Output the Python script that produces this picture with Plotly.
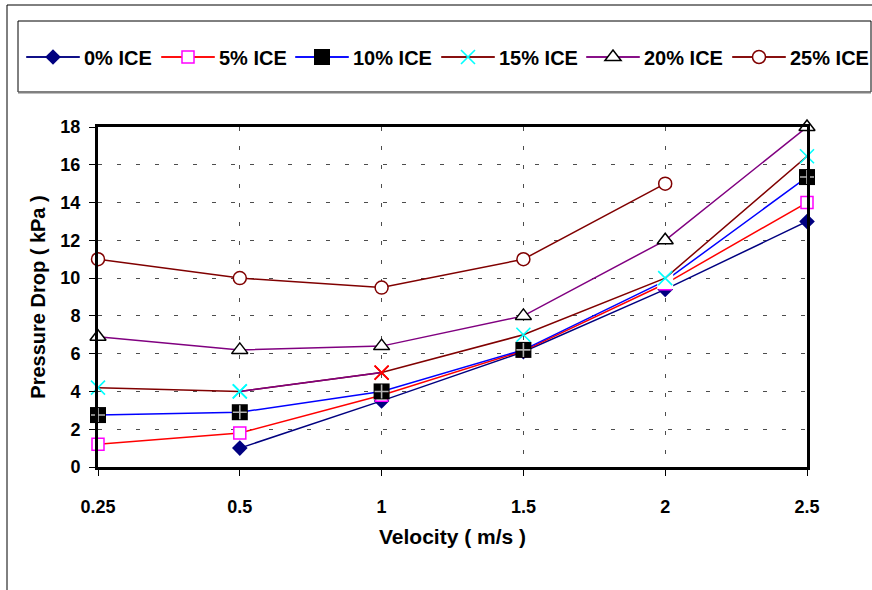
import plotly.graph_objects as go

# Velocity categories (m/s) and pressure drop (kPa) per ice fraction
velocity = ["0.25", "0.5", "1", "1.5", "2", "2.5"]

ice_0 = [None, 1.0, 3.5, 6.1, 9.4, 13.0]
ice_5 = [1.2, 1.8, 3.8, 6.15, 9.7, 14.0]
ice_10 = [2.75, 2.9, 4.0, 6.2, 9.85, 15.35]
ice_15 = [4.2, 4.0, 5.0, 7.0, 10.0, 16.45]
ice_20 = [6.9, 6.2, 6.4, 8.0, 12.0, 18.0]
ice_25 = [11.0, 10.0, 9.5, 11.0, 15.0, None]

# plot area in pixels
W, H = 872, 590
L, R, T, B = 98, 65, 127, 123
PW, PH = W - L - R, H - T - B


def px_x(px):
    return (px - L) / PW


def px_y(py):
    return (H - B - py) / PH


FONT = "Liberation Sans, Arial, sans-serif"
LINE_W = 1.5

# one legend box per series, laid out in a single row across the top
legend_ids = ["legend", "legend2", "legend3", "legend4", "legend5", "legend6"]
legend_left = [26, 161, 295, 441, 586, 732]   # left end of each legend key line (px)
legend_row_y = 57
key_len = 54
key_item_w = 52                               # legend itemwidth; symbol centred in it
line_colors = ["#000080", "#FF0000", "#0000FF", "#800000", "#800080", "#800000"]

fig = go.Figure()

fig.add_trace(go.Scatter(
    x=velocity, y=ice_0, name="0% ICE", mode="lines+markers", legend=legend_ids[0],
    line=dict(color=line_colors[0], width=LINE_W),
    marker=dict(symbol="diamond", size=12, color="#000080"),
    cliponaxis=False,
))

fig.add_trace(go.Scatter(
    x=velocity, y=ice_5, name="5% ICE", mode="lines+markers", legend=legend_ids[1],
    line=dict(color=line_colors[1], width=LINE_W),
    marker=dict(symbol="square", size=12, color="white",
                line=dict(color="#FF00FF", width=1.5)),
    cliponaxis=False,
))

# 10% series: black square with white plus; the point at 2 m/s is a plain white square
sq_fill_10 = ["black", "black", "black", "black", "white", "black"]
plus_size_10 = [10, 10, 10, 10, 0, 10]
fig.add_trace(go.Scatter(
    x=velocity, y=ice_10, name="10% ICE", mode="lines+markers", legend=legend_ids[2],
    line=dict(color=line_colors[2], width=LINE_W),
    marker=dict(symbol="square", size=16, color=sq_fill_10, line=dict(width=0)),
    cliponaxis=False,
))
fig.add_trace(go.Scatter(
    x=velocity, y=ice_10, mode="markers", showlegend=False, hoverinfo="skip",
    marker=dict(symbol="cross-thin", size=plus_size_10,
                line=dict(color="white", width=1.6)),
    cliponaxis=False,
))

# 15% series: cyan crosses, one red cross at 1 m/s
x_col_15 = ["#00FFFF", "#00FFFF", "#FF0000", "#00FFFF", "#00FFFF", "#00FFFF"]
fig.add_trace(go.Scatter(
    x=velocity, y=ice_15, name="15% ICE", mode="lines+markers", legend=legend_ids[3],
    line=dict(color=line_colors[3], width=LINE_W),
    marker=dict(symbol="x-thin", size=14, color=x_col_15,
                line=dict(color=x_col_15, width=1.6)),
    cliponaxis=False,
))
# the 0.5-1 m/s segment of the 15% series is drawn in purple
fig.add_trace(go.Scatter(
    x=velocity[1:3], y=ice_15[1:3], mode="lines", showlegend=False,
    hoverinfo="skip", line=dict(color="#800080", width=LINE_W),
    cliponaxis=False,
))
fig.add_trace(go.Scatter(
    x=velocity[1:3], y=ice_15[1:3], mode="markers", showlegend=False,
    hoverinfo="skip",
    marker=dict(symbol="x-thin", size=14, color=x_col_15[1:3],
                line=dict(color=x_col_15[1:3], width=1.6)),
    cliponaxis=False,
))

fig.add_trace(go.Scatter(
    x=velocity, y=ice_20, name="20% ICE", mode="lines+markers", legend=legend_ids[4],
    line=dict(color=line_colors[4], width=LINE_W),
    marker=dict(symbol="triangle-up", size=14, color="white",
                line=dict(color="black", width=1.5)),
    cliponaxis=False,
))

fig.add_trace(go.Scatter(
    x=velocity, y=ice_25, name="25% ICE", mode="lines+markers", legend=legend_ids[5],
    line=dict(color=line_colors[5], width=LINE_W),
    marker=dict(symbol="circle", size=13, color="white",
                line=dict(color="#800000", width=1.5)),
    cliponaxis=False,
))

grid = dict(showgrid=True, gridcolor="#4d4d4d", gridwidth=1, griddash="4px,15px")

# legend layout: the native key is a short line centred on the marker, so a
# full-length key line is laid underneath it
legends = {}
key_shapes = []
sym_centre = (key_item_w + 10) / 2
for lid, left, col in zip(legend_ids, legend_left, line_colors):
    centre = left + key_len / 2
    legends[lid] = dict(
        orientation="h", x=px_x(centre - sym_centre), xanchor="left",
        y=px_y(legend_row_y), yanchor="middle", itemwidth=key_item_w,
        font=dict(family=FONT, size=20, color="black", weight="bold"),
        bgcolor="rgba(0,0,0,0)", borderwidth=0,
    )
    key_shapes.append(dict(
        type="line", xref="paper", yref="paper",
        x0=px_x(left), x1=px_x(left + key_len),
        y0=px_y(legend_row_y), y1=px_y(legend_row_y),
        line=dict(color=col, width=LINE_W),
    ))

fig.update_layout(
    width=W, height=H,
    margin=dict(l=L, r=R, t=T, b=B, autoexpand=False),
    paper_bgcolor="white", plot_bgcolor="white",
    font=dict(family=FONT, size=18, color="black", weight="bold"),
    showlegend=True,
    **legends,
    xaxis=dict(
        type="category", range=[0, 5], categoryorder="array", categoryarray=velocity,
        showline=True, linecolor="black", linewidth=3, mirror=True,
        ticks="outside", ticklen=6, tickcolor="black", tickwidth=1,
        ticklabelstandoff=15, zeroline=False,
        tickfont=dict(family=FONT, size=18, weight="bold"),
        title=dict(text="Velocity ( m/s )", standoff=14,
                   font=dict(family=FONT, size=21, weight="bold")),
        automargin=False, **grid,
    ),
    yaxis=dict(
        range=[0, 18], dtick=2, tick0=0,
        showline=True, linecolor="black", linewidth=3, mirror=True,
        ticks="outside", ticklen=6, tickcolor="black", tickwidth=1,
        ticklabelstandoff=5, zeroline=False,
        tickfont=dict(family=FONT, size=18, weight="bold"),
        title=dict(text="Pressure Drop ( kPa )", standoff=10,
                   font=dict(family=FONT, size=20, weight="bold")),
        automargin=False, **grid,
    ),
    shapes=[
        # outer chart frame
        dict(type="rect", xref="paper", yref="paper",
             x0=px_x(7), x1=px_x(W + 20), y0=px_y(H + 20), y1=px_y(5),
             line=dict(color="black", width=1), fillcolor="rgba(0,0,0,0)", layer="below"),
        # legend box
        dict(type="rect", xref="paper", yref="paper",
             x0=px_x(18), x1=px_x(871), y0=px_y(92), y1=px_y(21),
             line=dict(color="black", width=1), fillcolor="rgba(0,0,0,0)", layer="below"),
        dict(type="line", xref="paper", yref="paper",
             x0=px_x(18), x1=px_x(871), y0=px_y(92.5), y1=px_y(92.5),
             line=dict(color="#808080", width=2)),
    ] + key_shapes,
)

fig.write_html("out.html")
